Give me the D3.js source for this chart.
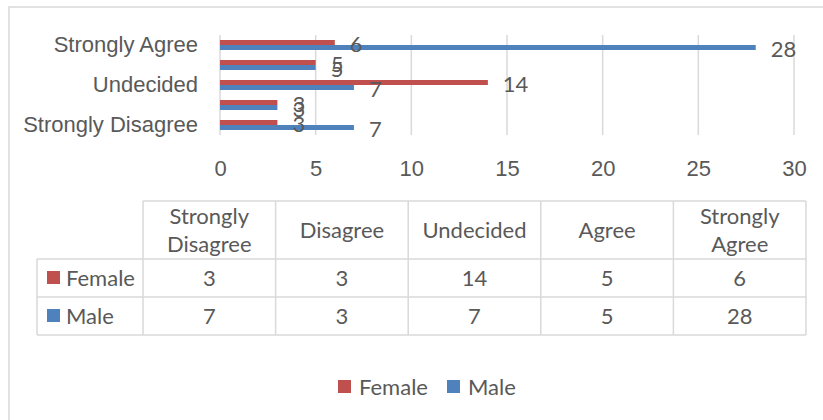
<!DOCTYPE html>
<html>
<head>
<meta charset="utf-8">
<script src="https://cdn.jsdelivr.net/npm/d3@7"></script>
<style>
  html, body { margin: 0; padding: 0; background: #fff; }
  svg { display: block; font-family: Lato, "Open Sans", sans-serif; }
  .axis text { fill: #595959; font-size: 22px; }
  .lbl { fill: #595959; font-size: 22px; }
</style>
</head>
<body>
<div id="chart"></div>
<script>
const categories = ["Strongly Disagree", "Disagree", "Undecided", "Agree", "Strongly Agree"];
const seriesNames = ["Female", "Male"];
const femaleValues = [3, 3, 14, 5, 6];
const maleValues = [7, 3, 7, 5, 28];
const xTicks = [0, 5, 10, 15, 20, 25, 30];

const W = 823, H = 420;
const colors = { Female: "#C0504D", Male: "#4F81BD" };
const gridColor = "#D9D9D9";

const series = [
  { name: "Female", values: femaleValues },
  { name: "Male", values: maleValues }
];

const svg = d3.select("#chart").append("svg")
  .attr("width", W).attr("height", H);

// outer chart border (runs off the right and bottom edge)
svg.append("rect")
  .attr("x", 9).attr("y", 7)
  .attr("width", W).attr("height", H)
  .attr("fill", "none").attr("stroke", gridColor).attr("stroke-width", 1.5);

const plot = { left: 220, right: 794, top: 35, bottom: 135 };

const x = d3.scaleLinear().domain([0, 30]).range([plot.left, plot.right]);
const y = d3.scaleBand().domain(categories.slice().reverse()).range([plot.top, plot.bottom]);
const ySub = d3.scaleBand().domain(seriesNames)
  .range([y.bandwidth() * 0.25, y.bandwidth() * 0.75]);

// gridlines
svg.append("g").selectAll("line")
  .data(xTicks).join("line")
  .attr("x1", d => x(d)).attr("x2", d => x(d))
  .attr("y1", plot.top).attr("y2", plot.bottom)
  .attr("stroke", gridColor).attr("stroke-width", 1.5);

// bars
const groups = svg.append("g").selectAll("g")
  .data(series).join("g")
  .attr("fill", d => colors[d.name]);

groups.selectAll("rect")
  .data(s => s.values.map((v, i) => ({ name: s.name, cat: categories[i], v })))
  .join("rect")
  .attr("x", x(0))
  .attr("y", d => y(d.cat) + ySub(d.name))
  .attr("width", d => x(d.v) - x(0))
  .attr("height", ySub.bandwidth());

// data labels
svg.append("g").selectAll("text")
  .data(series.flatMap(s => s.values.map((v, i) => ({ name: s.name, cat: categories[i], v }))))
  .join("text")
  .attr("class", "lbl")
  .attr("x", d => x(d.v) + 15)
  .attr("y", d => y(d.cat) + ySub(d.name) + ySub.bandwidth() / 2 + 2)
  .attr("dy", "0.35em")
  .text(d => d.v);

// y axis, every other label like the original
svg.append("g")
  .attr("class", "axis")
  .attr("transform", `translate(${plot.left},0)`)
  .call(d3.axisLeft(y).tickSize(0).tickPadding(22)
    .tickFormat((d, i) => (i % 2 === 0 ? d : "")))
  .call(g => g.select(".domain").remove())
  .selectAll("text").attr("font-family", null).attr("font-size", null);

// x axis
svg.append("g")
  .attr("class", "axis")
  .attr("transform", `translate(0,${plot.bottom})`)
  .call(d3.axisBottom(x).tickValues(xTicks).tickSize(0).tickPadding(25))
  .call(g => g.select(".domain").remove())
  .selectAll("text").attr("font-family", null).attr("font-size", null);

// data table
const tbl = { left: 37, colStart: 143, right: 806, top: 201, headBottom: 259, rowH: 38 };
const colX = d3.scaleBand().domain(categories).range([tbl.colStart, tbl.right]);
const tableBottom = tbl.headBottom + tbl.rowH * series.length;
const tg = svg.append("g").attr("stroke", gridColor).attr("stroke-width", 1.5);

// horizontal rules
tg.append("line").attr("x1", tbl.colStart).attr("x2", tbl.right).attr("y1", tbl.top).attr("y2", tbl.top);
[tbl.headBottom, tbl.headBottom + tbl.rowH, tableBottom].forEach(yy => {
  tg.append("line").attr("x1", tbl.left).attr("x2", tbl.right).attr("y1", yy).attr("y2", yy);
});
// vertical rules
tg.append("line").attr("x1", tbl.left).attr("x2", tbl.left).attr("y1", tbl.headBottom).attr("y2", tableBottom);
categories.concat([null]).forEach((c, i) => {
  const xx = c ? colX(c) : tbl.right;
  tg.append("line").attr("x1", xx).attr("x2", xx).attr("y1", tbl.top).attr("y2", tableBottom);
});

// header text
const head = svg.append("g");
categories.forEach(c => {
  const lines = c.startsWith("Strongly") ? c.split(" ") : [c];
  const cy = (tbl.top + tbl.headBottom) / 2;
  const t = head.append("text").attr("class", "lbl")
    .attr("text-anchor", "middle")
    .attr("x", colX(c) + colX.bandwidth() / 2);
  lines.forEach((ln, j) => {
    t.append("tspan")
      .attr("x", colX(c) + colX.bandwidth() / 2)
      .attr("y", cy + (j - (lines.length - 1) / 2) * 28)
      .attr("dy", "0.35em")
      .text(ln);
  });
});

// rows
series.forEach((s, r) => {
  const cy = tbl.headBottom + tbl.rowH * r + tbl.rowH / 2;
  svg.append("rect")
    .attr("x", 47).attr("y", cy - 7)
    .attr("width", 13).attr("height", 13)
    .attr("fill", colors[s.name]);
  svg.append("text").attr("class", "lbl")
    .attr("x", 66).attr("y", cy).attr("dy", "0.35em")
    .text(s.name);
  s.values.forEach((v, i) => {
    svg.append("text").attr("class", "lbl")
      .attr("text-anchor", "middle")
      .attr("x", colX(categories[i]) + colX.bandwidth() / 2)
      .attr("y", cy).attr("dy", "0.35em")
      .text(v);
  });
});

// legend
const legend = svg.append("g");
const legendPos = [{ sq: 338, tx: 359 }, { sq: 447, tx: 468 }];
series.forEach((s, i) => {
  legend.append("rect")
    .attr("x", legendPos[i].sq).attr("y", 380)
    .attr("width", 13).attr("height", 13)
    .attr("fill", colors[s.name]);
  legend.append("text").attr("class", "lbl")
    .attr("x", legendPos[i].tx).attr("y", 387).attr("dy", "0.35em")
    .text(s.name);
});
</script>
</body>
</html>
